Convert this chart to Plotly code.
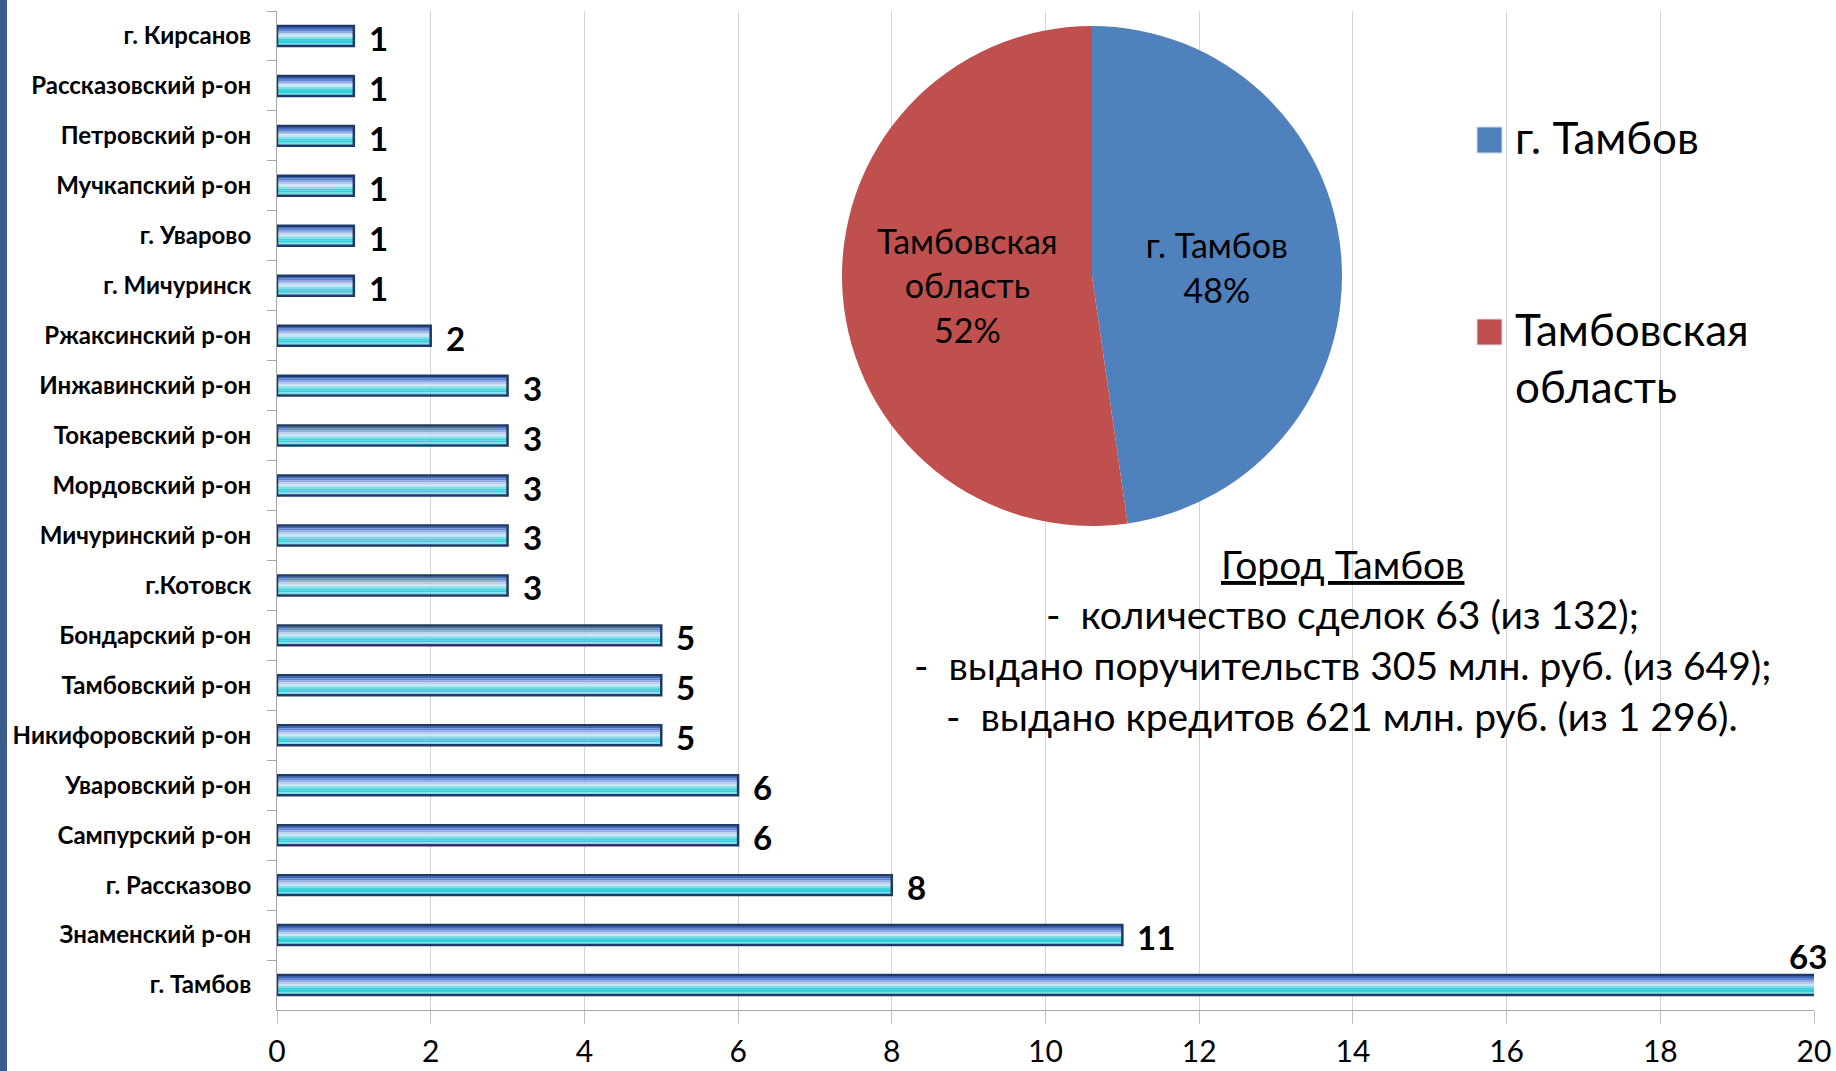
import plotly.graph_objects as go

# ---------------- data ----------------
districts = [
    "г. Кирсанов", "Рассказовский р-он", "Петровский р-он", "Мучкапский р-он",
    "г. Уварово", "г. Мичуринск", "Ржаксинский р-он", "Инжавинский р-он",
    "Токаревский р-он", "Мордовский р-он", "Мичуринский р-он", "г.Котовск",
    "Бондарский р-он", "Тамбовский р-он", "Никифоровский р-он", "Уваровский р-он",
    "Сампурский р-он", "г. Рассказово", "Знаменский р-он", "г. Тамбов",
]
deals = [1, 1, 1, 1, 1, 1, 2, 3, 3, 3, 3, 3, 5, 5, 5, 6, 6, 8, 11, 63]
x_ticks = [0, 2, 4, 6, 8, 10, 12, 14, 16, 18, 20]
x_max = 20

pie_labels = ["г. Тамбов", "Тамбовская область"]
pie_inside_labels = ["г. Тамбов", "Тамбовская<br>область"]
pie_values = [63, 69]
pie_colors = ["#4f81bd", "#c0504d"]

info_title = "Город Тамбов"
info_lines = [
    "-  количество сделок 63 (из 132);",
    "-  выдано поручительств 305 млн. руб. (из 649);",
    "-  выдано кредитов 621 млн. руб. (из 1 296).",
]

# ---------------- geometry / style ----------------
W, H = 1836, 1071
ML, MR, MT, MB = 277, 22, 11, 61
PW, PH = W - ML - MR, H - MT - MB
FONT = "Lato, 'Open Sans', sans-serif"


def px_x(p):
    return (p - ML) / PW


def px_y(p):
    return (H - MB - p) / PH


fig = go.Figure()

# striped (gradient-like) bars
stripe_colors = ["#4068bc", "#6086d2", "#92abe3", "#bacdf0", "#c8e7f3",
                 "#80dce7", "#42d2de", "#30ced9", "#78e2ea"]
half = 0.18
sw = 2 * half / len(stripe_colors)
for i, c in enumerate(stripe_colors):
    fig.add_trace(go.Bar(
        y=districts, x=deals, orientation="h", width=sw, offset=-half + i * sw,
        marker=dict(color=c, line=dict(width=0)), showlegend=False, hoverinfo="skip",
    ))
fig.add_trace(go.Bar(
    y=districts, x=deals, orientation="h", width=0.4, offset=-0.2,
    marker=dict(color="rgba(0,0,0,0)", line=dict(color="#1f3a66", width=2.5)),
    showlegend=False, hoverinfo="x+y",
))

# pie
cx, cy, r = 1092, 276, 250
fig.add_trace(go.Pie(
    labels=pie_labels, values=pie_values, text=pie_inside_labels,
    texttemplate="%{text}<br>%{percent:.0%}", textposition="inside",
    insidetextorientation="horizontal",
    marker=dict(colors=pie_colors, line=dict(width=0)),
    sort=False, direction="clockwise", rotation=0, showlegend=False,
    textfont=dict(family=FONT, size=34, color="black"),
    domain=dict(x=[px_x(cx - r), px_x(cx + r)], y=[px_y(cy + r), px_y(cy - r)]),
))

annotations = []
# value labels
for d, v in zip(districts, deals):
    if v > x_max:
        annotations.append(dict(x=x_max, y=d, xref="x", yref="y", text=str(v),
                                showarrow=False, xanchor="right", yanchor="middle",
                                xshift=15, yshift=29,
                                font=dict(family=FONT, size=33, color="black", weight=700)))
    else:
        annotations.append(dict(x=v, y=d, xref="x", yref="y", text=str(v),
                                showarrow=False, xanchor="left", yanchor="middle",
                                xshift=13, yshift=-2,
                                font=dict(family=FONT, size=33, color="black", weight=700)))

# manual legend
shapes = []
leg_centers = [140, 332]
for lab, col, yc in zip(pie_labels, pie_colors, leg_centers):
    shapes.append(dict(type="rect", xref="paper", yref="paper",
                       x0=px_x(1477), x1=px_x(1502), y0=px_y(yc + 13), y1=px_y(yc - 13),
                       fillcolor=col, line=dict(width=1, color="#d0dcec")))
    annotations.append(dict(x=px_x(1513), y=px_y(yc - 31), xref="paper", yref="paper",
                            text=lab.replace(" ", "<br>") if lab.startswith("Т") else lab,
                            showarrow=False, xanchor="left", yanchor="top", align="left",
                            font=dict(family=FONT, size=44, color="black")))

# info text
info_y = [564, 614, 665, 716]
for t, yv in zip(["<u>" + info_title + "</u>"] + info_lines, info_y):
    annotations.append(dict(x=px_x(1342), y=px_y(yv), xref="paper", yref="paper", text=t,
                            showarrow=False, xanchor="center", yanchor="middle",
                            font=dict(family=FONT, size=39, color="black")))

# left blue strip
shapes.append(dict(type="rect", xref="paper", yref="paper",
                   x0=px_x(0), x1=px_x(7), y0=px_y(H), y1=px_y(0),
                   fillcolor="#3a5b8c", line=dict(width=0), layer="above"))

fig.update_layout(
    width=W, height=H,
    margin=dict(l=ML, r=MR, t=MT, b=MB, autoexpand=False),
    paper_bgcolor="white", plot_bgcolor="white",
    barmode="overlay", bargap=0.6,
    showlegend=False,
    annotations=annotations, shapes=shapes,
    font=dict(family=FONT, color="black"),
    xaxis=dict(range=[0, x_max], tickvals=x_ticks, ticks="outside", ticklen=13,
               tickcolor="#bdbdbd", showgrid=True, gridcolor="#d4d4d4", gridwidth=1,
               showline=True, linecolor="#a6a6a6", linewidth=1, zeroline=False,
               automargin=False, ticklabelstandoff=2,
               tickfont=dict(family=FONT, size=30, color="black"), fixedrange=True),
    yaxis=dict(type="category", categoryorder="array", categoryarray=districts,
               range=[len(districts) - 0.5, -0.5], ticks="outside", tickson="boundaries",
               ticklen=9, tickcolor="#a6a6a6", showline=True, linecolor="#a6a6a6",
               linewidth=1, showgrid=False, zeroline=False, ticklabelstandoff=20,
               automargin=False,
               tickfont=dict(family=FONT, size=24, color="black", weight=700),
               fixedrange=True),
)

fig.write_html(
    "out.html",
    config={"displayModeBar": False},
    post_script="document.body.style.margin='0px';document.body.style.overflow='hidden';",
)
